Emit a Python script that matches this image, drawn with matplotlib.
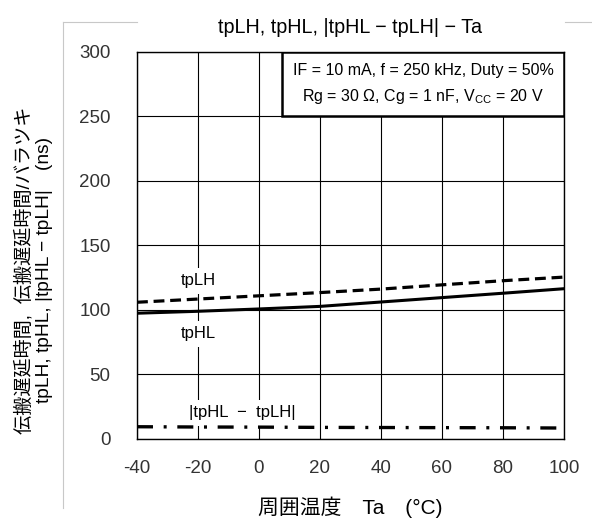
import matplotlib
matplotlib.use('Agg')
import matplotlib.pyplot as plt
from matplotlib.patches import Rectangle
from matplotlib.lines import Line2D

plt.rcParams['font.family'] = ['Liberation Sans', 'Noto Sans CJK JP', 'DejaVu Sans']
plt.rcParams['mathtext.fontset'] = 'custom'
plt.rcParams['mathtext.rm'] = 'Liberation Sans'
plt.rcParams['axes.unicode_minus'] = False

# データ
temps = [-40, -20, 0, 20, 40, 60, 80, 100]
tplh = [106, 108.5, 111, 113.5, 116.2, 119.5, 122.7, 125.5]
tphl = [97.5, 99, 100.8, 102.8, 106.2, 109.6, 113, 116.5]
diff = [9.5, 9.3, 9.2, 9.0, 8.9, 8.8, 8.7, 8.5]

xticks = [-40, -20, 0, 20, 40, 60, 80, 100]
yticks = [0, 50, 100, 150, 200, 250, 300]

fig = plt.figure(figsize=(5.92, 5.21), dpi=100)
ax = fig.add_axes([0.2314, 0.1574, 0.7213, 0.7428])

# 外枠（薄いグレー）
gray = '#c8c8c8'
fig.add_artist(Line2D([0.1064, 0.1064], [0.025, 0.9578], color=gray, lw=0.8))
fig.add_artist(Line2D([0.1064, 0.2314], [0.9578, 0.9578], color=gray, lw=0.8))
fig.add_artist(Line2D([0.954, 1.0], [0.9578, 0.9578], color=gray, lw=0.8))

ax.plot(temps, tplh, color='black', lw=2.3, dashes=(3.4, 1.8), zorder=3)
ax.plot(temps, tphl, color='black', lw=2.2, zorder=3)
ax.plot(temps, diff, color='black', lw=2.4, dashes=(4.8, 3.2, 0.9, 3.2), zorder=3)

ax.set_xlim(-40, 100)
ax.set_ylim(0, 300)
ax.set_xticks(xticks)
ax.set_yticks(yticks)
ax.grid(True, color='black', lw=0.8)
ax.set_axisbelow(True)
for s in ax.spines.values():
    s.set_linewidth(1.0)
ax.tick_params(length=0, labelsize=13.5, labelcolor='#333333')
ax.tick_params(axis='y', pad=19)
ax.tick_params(axis='x', pad=15)

ax.set_title('tpLH, tpHL, |tpHL − tpLH| − Ta', fontsize=14.2, pad=14)
ax.set_xlabel('周囲温度　Ta　(°C)', fontsize=15, labelpad=14)

# 縦軸ラベル（2行）
fig.text(34 / 592, 1 - 270 / 521,
         '伝搬遅延時間,  伝搬遅延時間/バラツキ\ntpLH, tpHL, |tpHL − tpLH|　(ns)',
         rotation=90, ha='center', va='center', fontsize=13.8, linespacing=1.2,
         multialignment='center')

# 曲線ラベル
lab_box = dict(facecolor='white', edgecolor='none', pad=4)
ax.text(-20, 122.5, 'tpLH', ha='center', va='center', fontsize=12, bbox=lab_box, zorder=2)
ax.text(-20, 81.5, 'tpHL', ha='center', va='center', fontsize=12, bbox=lab_box, zorder=2)
ax.text(-5.4, 20.5, '|tpHL  −  tpLH|', ha='center', va='center', fontsize=12, bbox=lab_box, zorder=2)

# 条件ボックス
ax.add_patch(Rectangle((0.3396, 0.8346), 0.6604, 0.1654, transform=ax.transAxes,
                       facecolor='white', edgecolor='black', lw=1.8, zorder=4))
ax.text(0.67, 0.951, 'IF = 10 mA, f = 250 kHz, Duty = 50%', transform=ax.transAxes,
        ha='center', va='center', fontsize=11.5, zorder=5)
ax.text(0.67, 0.884, r'Rg = 30 Ω, Cg = 1 nF, V$_\mathregular{CC}$ = 20 V', transform=ax.transAxes,
        ha='center', va='center', fontsize=11.5, zorder=5)

fig.savefig('out.png', dpi=100)
